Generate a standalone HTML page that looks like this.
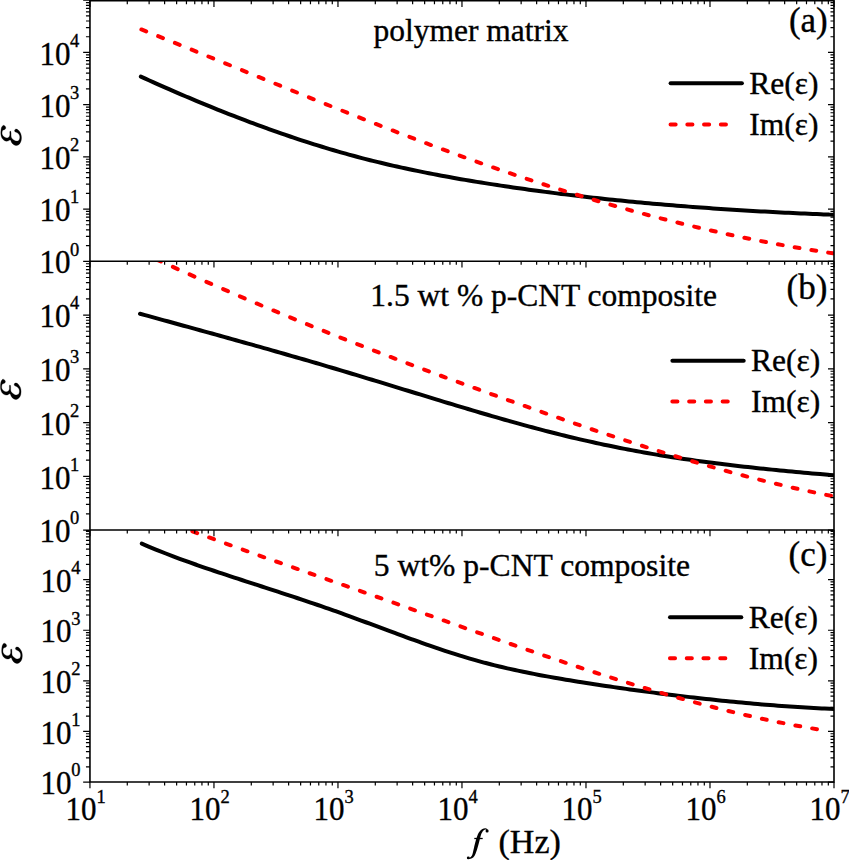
<!DOCTYPE html><html><head><meta charset="utf-8"><style>html,body{margin:0;padding:0;background:#fff;overflow:hidden;}svg{display:block;}text{font-family:"Liberation Serif",serif;fill:#000;stroke:#000;stroke-width:0.35px;}</style></head><body>
<svg width="849" height="860" viewBox="0 0 849 860">
<defs>
<clipPath id="c0"><rect x="89.95" y="0.75" width="744.05" height="260.5"/></clipPath>
<clipPath id="c1"><rect x="89.95" y="261.25" width="744.05" height="268.8"/></clipPath>
<clipPath id="c2"><rect x="89.95" y="530.05" width="744.05" height="252"/></clipPath>
</defs>
<path d="M140.84,76.64 C142.17,77.25 146.17,79.06 148.84,80.25 C151.51,81.45 154.17,82.64 156.84,83.83 C159.51,85.01 162.17,86.19 164.84,87.36 C167.51,88.53 170.17,89.69 172.84,90.85 C175.51,92.01 178.17,93.16 180.84,94.3 C183.51,95.44 186.17,96.58 188.84,97.71 C191.51,98.83 194.17,99.95 196.84,101.07 C199.51,102.18 202.17,103.29 204.84,104.38 C207.51,105.48 210.17,106.57 212.84,107.65 C215.51,108.73 218.17,109.8 220.84,110.87 C223.51,111.93 226.17,112.99 228.84,114.04 C231.51,115.08 234.17,116.12 236.84,117.15 C239.51,118.18 242.17,119.2 244.84,120.22 C247.51,121.23 250.17,122.23 252.84,123.22 C255.51,124.22 258.17,125.2 260.84,126.18 C263.51,127.15 266.17,128.12 268.84,129.07 C271.51,130.03 274.17,130.97 276.84,131.91 C279.51,132.84 282.17,133.77 284.84,134.69 C287.51,135.6 290.17,136.51 292.84,137.4 C295.51,138.3 298.17,139.18 300.84,140.05 C303.51,140.93 306.17,141.79 308.84,142.64 C311.51,143.49 314.17,144.33 316.84,145.16 C319.51,145.99 322.17,146.81 324.84,147.62 C327.51,148.42 330.17,149.22 332.84,150 C335.51,150.79 338.17,151.56 340.84,152.32 C343.51,153.08 346.17,153.82 348.84,154.56 C351.51,155.3 354.17,156.02 356.84,156.73 C359.51,157.44 362.17,158.14 364.84,158.83 C367.51,159.51 370.17,160.19 372.84,160.85 C375.51,161.52 378.17,162.17 380.84,162.81 C383.51,163.45 386.17,164.08 388.84,164.7 C391.51,165.32 394.17,165.93 396.84,166.53 C399.51,167.13 402.17,167.72 404.84,168.3 C407.51,168.87 410.17,169.44 412.84,170 C415.51,170.56 418.17,171.11 420.84,171.66 C423.51,172.2 426.17,172.73 428.84,173.25 C431.51,173.78 434.17,174.29 436.84,174.8 C439.51,175.31 442.17,175.81 444.84,176.3 C447.51,176.79 450.17,177.27 452.84,177.75 C455.51,178.22 458.17,178.69 460.84,179.16 C463.51,179.62 466.17,180.07 468.84,180.52 C471.51,180.97 474.17,181.41 476.84,181.85 C479.51,182.28 482.17,182.71 484.84,183.13 C487.51,183.56 490.17,183.98 492.84,184.39 C495.51,184.8 498.17,185.21 500.84,185.61 C503.51,186.01 506.17,186.41 508.84,186.8 C511.51,187.2 514.17,187.58 516.84,187.97 C519.51,188.35 522.17,188.73 524.84,189.1 C527.51,189.47 530.17,189.84 532.84,190.21 C535.51,190.57 538.17,190.93 540.84,191.28 C543.51,191.64 546.17,191.99 548.84,192.33 C551.51,192.68 554.17,193.02 556.84,193.36 C559.51,193.69 562.17,194.03 564.84,194.35 C567.51,194.68 570.17,195 572.84,195.32 C575.51,195.64 578.17,195.96 580.84,196.27 C583.51,196.58 586.17,196.88 588.84,197.18 C591.51,197.48 594.17,197.78 596.84,198.07 C599.51,198.37 602.17,198.66 604.84,198.94 C607.51,199.23 610.17,199.51 612.84,199.78 C615.51,200.06 618.17,200.33 620.84,200.6 C623.51,200.87 626.17,201.13 628.84,201.39 C631.51,201.66 634.17,201.91 636.84,202.17 C639.51,202.42 642.17,202.67 644.84,202.91 C647.51,203.16 650.17,203.4 652.84,203.64 C655.51,203.87 658.17,204.11 660.84,204.34 C663.51,204.57 666.17,204.8 668.84,205.02 C671.51,205.24 674.17,205.46 676.84,205.68 C679.51,205.89 682.17,206.11 684.84,206.32 C687.51,206.52 690.17,206.73 692.84,206.93 C695.51,207.13 698.17,207.33 700.84,207.53 C703.51,207.72 706.17,207.92 708.84,208.1 C711.51,208.29 714.17,208.48 716.84,208.66 C719.51,208.84 722.17,209.02 724.84,209.2 C727.51,209.37 730.17,209.55 732.84,209.72 C735.51,209.89 738.17,210.05 740.84,210.22 C743.51,210.38 746.17,210.54 748.84,210.7 C751.51,210.86 754.17,211.01 756.84,211.16 C759.51,211.31 762.17,211.46 764.84,211.61 C767.51,211.76 770.17,211.9 772.84,212.04 C775.51,212.18 778.17,212.32 780.84,212.45 C783.51,212.59 786.17,212.72 788.84,212.85 C791.51,212.98 794.17,213.11 796.84,213.23 C799.51,213.35 802.17,213.48 804.84,213.6 C807.51,213.71 810.17,213.83 812.84,213.95 C815.51,214.06 818.17,214.17 820.84,214.28 C823.51,214.39 826.56,214.51 828.84,214.6 C831.12,214.69 833.56,214.79 834.5,214.82" fill="none" stroke="#000" stroke-width="4" stroke-linecap="round" stroke-linejoin="round" clip-path="url(#c0)"/>
<path d="M140,313.73 C141.33,314.1 145.33,315.2 148,315.94 C150.67,316.67 153.33,317.4 156,318.14 C158.67,318.87 161.33,319.6 164,320.34 C166.67,321.07 169.33,321.8 172,322.54 C174.67,323.27 177.33,324 180,324.74 C182.67,325.47 185.33,326.2 188,326.94 C190.67,327.67 193.33,328.4 196,329.14 C198.67,329.87 201.33,330.61 204,331.34 C206.67,332.08 209.33,332.82 212,333.55 C214.67,334.29 217.33,335.03 220,335.77 C222.67,336.51 225.33,337.25 228,337.99 C230.67,338.73 233.33,339.47 236,340.21 C238.67,340.96 241.33,341.7 244,342.45 C246.67,343.2 249.33,343.94 252,344.69 C254.67,345.44 257.33,346.19 260,346.94 C262.67,347.69 265.33,348.45 268,349.2 C270.67,349.96 273.33,350.72 276,351.48 C278.67,352.24 281.33,353 284,353.76 C286.67,354.52 289.33,355.29 292,356.06 C294.67,356.83 297.33,357.6 300,358.37 C302.67,359.14 305.33,359.92 308,360.69 C310.67,361.47 313.33,362.25 316,363.03 C318.67,363.81 321.33,364.6 324,365.38 C326.67,366.17 329.33,366.96 332,367.75 C334.67,368.54 337.33,369.33 340,370.13 C342.67,370.92 345.33,371.72 348,372.52 C350.67,373.32 353.33,374.12 356,374.92 C358.67,375.72 361.33,376.53 364,377.33 C366.67,378.14 369.33,378.95 372,379.76 C374.67,380.56 377.33,381.38 380,382.19 C382.67,383 385.33,383.82 388,384.63 C390.67,385.45 393.33,386.26 396,387.08 C398.67,387.9 401.33,388.72 404,389.54 C406.67,390.36 409.33,391.17 412,391.99 C414.67,392.81 417.33,393.63 420,394.45 C422.67,395.27 425.33,396.08 428,396.9 C430.67,397.72 433.33,398.53 436,399.35 C438.67,400.16 441.33,400.97 444,401.79 C446.67,402.6 449.33,403.41 452,404.21 C454.67,405.02 457.33,405.82 460,406.62 C462.67,407.43 465.33,408.23 468,409.02 C470.67,409.82 473.33,410.61 476,411.4 C478.67,412.19 481.33,412.97 484,413.75 C486.67,414.54 489.33,415.31 492,416.09 C494.67,416.86 497.33,417.63 500,418.39 C502.67,419.15 505.33,419.91 508,420.66 C510.67,421.42 513.33,422.16 516,422.91 C518.67,423.65 521.33,424.38 524,425.11 C526.67,425.84 529.33,426.57 532,427.28 C534.67,428 537.33,428.71 540,429.41 C542.67,430.11 545.33,430.81 548,431.49 C550.67,432.18 553.33,432.86 556,433.53 C558.67,434.2 561.33,434.87 564,435.52 C566.67,436.18 569.33,436.82 572,437.46 C574.67,438.1 577.33,438.73 580,439.35 C582.67,439.96 585.33,440.57 588,441.17 C590.67,441.77 593.33,442.37 596,442.95 C598.67,443.53 601.33,444.1 604,444.67 C606.67,445.23 609.33,445.78 612,446.33 C614.67,446.88 617.33,447.41 620,447.94 C622.67,448.47 625.33,448.99 628,449.5 C630.67,450.01 633.33,450.51 636,451 C638.67,451.49 641.33,451.98 644,452.45 C646.67,452.93 649.33,453.39 652,453.85 C654.67,454.31 657.33,454.75 660,455.19 C662.67,455.63 665.33,456.07 668,456.49 C670.67,456.91 673.33,457.33 676,457.74 C678.67,458.15 681.33,458.55 684,458.94 C686.67,459.33 689.33,459.72 692,460.1 C694.67,460.47 697.33,460.84 700,461.21 C702.67,461.57 705.33,461.93 708,462.28 C710.67,462.63 713.33,462.98 716,463.32 C718.67,463.65 721.33,463.99 724,464.31 C726.67,464.64 729.33,464.96 732,465.28 C734.67,465.59 737.33,465.9 740,466.21 C742.67,466.51 745.33,466.81 748,467.1 C750.67,467.4 753.33,467.69 756,467.97 C758.67,468.26 761.33,468.54 764,468.82 C766.67,469.09 769.33,469.36 772,469.63 C774.67,469.9 777.33,470.17 780,470.43 C782.67,470.69 785.33,470.94 788,471.2 C790.67,471.45 793.33,471.7 796,471.95 C798.67,472.2 801.33,472.44 804,472.69 C806.67,472.93 809.33,473.17 812,473.41 C814.67,473.64 817.33,473.88 820,474.11 C822.67,474.35 825.58,474.6 828,474.81 C830.42,475.02 833.42,475.27 834.5,475.36" fill="none" stroke="#000" stroke-width="4" stroke-linecap="round" stroke-linejoin="round" clip-path="url(#c1)"/>
<path d="M141.8,543.65 C143.13,544.22 147.13,545.93 149.8,547.05 C152.47,548.16 155.13,549.25 157.8,550.33 C160.47,551.4 163.13,552.46 165.8,553.49 C168.47,554.53 171.13,555.56 173.8,556.56 C176.47,557.57 179.13,558.56 181.8,559.54 C184.47,560.52 187.13,561.49 189.8,562.44 C192.47,563.4 195.13,564.34 197.8,565.27 C200.47,566.21 203.13,567.13 205.8,568.04 C208.47,568.95 211.13,569.86 213.8,570.76 C216.47,571.66 219.13,572.55 221.8,573.43 C224.47,574.32 227.13,575.2 229.8,576.08 C232.47,576.96 235.13,577.83 237.8,578.7 C240.47,579.57 243.13,580.44 245.8,581.31 C248.47,582.17 251.13,583.04 253.8,583.9 C256.47,584.77 259.13,585.63 261.8,586.5 C264.47,587.36 267.13,588.22 269.8,589.09 C272.47,589.96 275.13,590.82 277.8,591.69 C280.47,592.56 283.13,593.43 285.8,594.31 C288.47,595.18 291.13,596.06 293.8,596.94 C296.47,597.82 299.13,598.71 301.8,599.6 C304.47,600.49 307.13,601.38 309.8,602.29 C312.47,603.19 315.13,604.1 317.8,605.01 C320.47,605.93 323.13,606.85 325.8,607.78 C328.47,608.71 331.13,609.65 333.8,610.6 C336.47,611.54 339.13,612.5 341.8,613.46 C344.47,614.42 347.13,615.39 349.8,616.36 C352.47,617.34 355.13,618.32 357.8,619.3 C360.47,620.28 363.13,621.26 365.8,622.25 C368.47,623.24 371.13,624.23 373.8,625.22 C376.47,626.21 379.13,627.21 381.8,628.2 C384.47,629.19 387.13,630.18 389.8,631.17 C392.47,632.16 395.13,633.15 397.8,634.13 C400.47,635.11 403.13,636.1 405.8,637.07 C408.47,638.05 411.13,639.02 413.8,639.98 C416.47,640.94 419.13,641.9 421.8,642.85 C424.47,643.79 427.13,644.73 429.8,645.66 C432.47,646.59 435.13,647.51 437.8,648.41 C440.47,649.32 443.13,650.22 445.8,651.09 C448.47,651.97 451.13,652.84 453.8,653.69 C456.47,654.54 459.13,655.38 461.8,656.2 C464.47,657.01 467.13,657.82 469.8,658.6 C472.47,659.38 475.13,660.14 477.8,660.89 C480.47,661.63 483.13,662.35 485.8,663.05 C488.47,663.76 491.13,664.44 493.8,665.11 C496.47,665.77 499.13,666.42 501.8,667.05 C504.47,667.68 507.13,668.3 509.8,668.9 C512.47,669.5 515.13,670.08 517.8,670.65 C520.47,671.22 523.13,671.78 525.8,672.32 C528.47,672.86 531.13,673.39 533.8,673.91 C536.47,674.43 539.13,674.94 541.8,675.43 C544.47,675.93 547.13,676.42 549.8,676.89 C552.47,677.37 555.13,677.84 557.8,678.3 C560.47,678.76 563.13,679.21 565.8,679.66 C568.47,680.1 571.13,680.54 573.8,680.98 C576.47,681.41 579.13,681.84 581.8,682.26 C584.47,682.69 587.13,683.11 589.8,683.52 C592.47,683.94 595.13,684.35 597.8,684.75 C600.47,685.16 603.13,685.56 605.8,685.95 C608.47,686.35 611.13,686.74 613.8,687.13 C616.47,687.52 619.13,687.9 621.8,688.28 C624.47,688.66 627.13,689.04 629.8,689.41 C632.47,689.78 635.13,690.15 637.8,690.51 C640.47,690.87 643.13,691.23 645.8,691.59 C648.47,691.94 651.13,692.29 653.8,692.64 C656.47,692.99 659.13,693.33 661.8,693.68 C664.47,694.02 667.13,694.35 669.8,694.68 C672.47,695.02 675.13,695.35 677.8,695.67 C680.47,695.99 683.13,696.32 685.8,696.63 C688.47,696.95 691.13,697.26 693.8,697.57 C696.47,697.87 699.13,698.18 701.8,698.48 C704.47,698.78 707.13,699.07 709.8,699.36 C712.47,699.65 715.13,699.93 717.8,700.21 C720.47,700.49 723.13,700.77 725.8,701.04 C728.47,701.31 731.13,701.58 733.8,701.84 C736.47,702.1 739.13,702.35 741.8,702.6 C744.47,702.85 747.13,703.1 749.8,703.34 C752.47,703.58 755.13,703.81 757.8,704.04 C760.47,704.27 763.13,704.5 765.8,704.72 C768.47,704.93 771.13,705.15 773.8,705.35 C776.47,705.56 779.13,705.76 781.8,705.96 C784.47,706.16 787.13,706.35 789.8,706.53 C792.47,706.71 795.13,706.89 797.8,707.06 C800.47,707.24 803.13,707.4 805.8,707.56 C808.47,707.72 811.13,707.88 813.8,708.02 C816.47,708.17 819.13,708.31 821.8,708.45 C824.47,708.58 827.68,708.73 829.8,708.83 C831.92,708.93 833.72,709 834.5,709.04" fill="none" stroke="#000" stroke-width="4" stroke-linecap="round" stroke-linejoin="round" clip-path="url(#c2)"/>
<path d="M141.4,29.47L146.2,31.38M158.15,36.16L162.95,38.09M174.9,42.9L179.7,44.84M191.65,49.68L196.45,51.63M208.4,56.48L213.2,58.43M225.15,63.3L229.95,65.25M241.9,70.13L246.7,72.08M258.65,76.95L263.45,78.91M275.4,83.77L280.2,85.72M292.15,90.57L296.95,92.51M308.9,97.34L313.7,99.27M325.65,104.07L330.45,105.99M342.4,110.76L347.2,112.67M359.15,117.4L363.95,119.29M375.9,123.97L380.7,125.84M392.65,130.47L397.45,132.32M409.4,136.89L414.2,138.71M426.15,143.22L430.95,145.01M442.9,149.45L447.7,151.21M459.65,155.57L464.45,157.3M476.4,161.57L481.2,163.27M493.15,167.45L497.95,169.11M509.9,173.2L514.7,174.82M526.65,178.81L531.45,180.39M543.4,184.27L548.2,185.81M560.15,189.6L564.95,191.09M576.9,194.77L581.7,196.23M593.65,199.79L598.45,201.21M610.4,204.66L615.2,206.03M627.15,209.38L631.95,210.7M643.9,213.93L648.7,215.21M660.65,218.32L665.45,219.55M677.4,222.55L682.2,223.73M694.15,226.61L698.95,227.74M710.9,230.49L715.7,231.57M727.65,234.2L732.45,235.23M744.4,237.73L749.2,238.71M761.15,241.09L765.95,242.01M777.9,244.26L782.7,245.13M794.65,247.24L799.45,248.06M811.4,250.03L816.2,250.79M828.15,252.63L832.95,253.34" fill="none" stroke="#f00" stroke-width="4" stroke-linecap="round" clip-path="url(#c0)"/>
<path d="M139.4,251.8L144.2,253.96M156.15,259.35L160.95,261.52M172.9,266.91L177.7,269.07M189.65,274.42L194.45,276.56M206.4,281.83L211.2,283.94M223.15,289.14L227.95,291.21M239.9,296.34L244.7,298.39M256.65,303.45L261.45,305.47M273.4,310.46L278.2,312.45M290.15,317.37L294.95,319.33M306.9,324.19L311.7,326.13M323.65,330.92L328.45,332.83M340.4,337.56L345.2,339.45M357.15,344.11L361.95,345.98M373.9,350.59L378.7,352.43M390.65,356.98L395.45,358.8M407.4,363.3L412.2,365.1M424.15,369.56L428.95,371.34M440.9,375.75L445.7,377.52M457.65,381.89L462.45,383.64M474.4,387.98L479.2,389.71M491.15,394.01L495.95,395.74M507.9,400.01L512.7,401.72M524.65,405.97L529.45,407.67M541.4,411.88L546.2,413.56M558.15,417.73L562.95,419.4M574.9,423.52L579.7,425.17M591.65,429.23L596.45,430.85M608.4,434.85L613.2,436.44M625.15,440.37L629.95,441.93M641.9,445.78L646.7,447.31M658.65,451.07L663.45,452.56M675.4,456.22L680.2,457.68M692.15,461.24L696.95,462.64M708.9,466.09L713.7,467.45M725.65,470.78L730.45,472.1M742.4,475.3L747.2,476.56M759.15,479.63L763.95,480.83M775.9,483.76L780.7,484.9M792.65,487.68L797.45,488.76M809.4,491.38L814.2,492.4M826.15,494.85L830.95,495.81" fill="none" stroke="#f00" stroke-width="4" stroke-linecap="round" clip-path="url(#c1)"/>
<path d="M158.9,518.9L163.7,520.68M175.65,525.11L180.45,526.89M192.4,531.31L197.2,533.09M209.15,537.48L213.95,539.24M225.9,543.57L230.7,545.31M242.65,549.6L247.45,551.31M259.4,555.57L264.2,557.27M276.15,561.49L280.95,563.18M292.9,567.38L297.7,569.06M309.65,573.24L314.45,574.92M326.4,579.1L331.2,580.78M343.15,584.96L347.95,586.64M359.9,590.84L364.7,592.53M376.65,596.74L381.45,598.43M393.4,602.65L398.2,604.35M410.15,608.59L414.95,610.29M426.9,614.52L431.7,616.22M443.65,620.45L448.45,622.15M460.4,626.37L465.2,628.07M477.15,632.28L481.95,633.96M493.9,638.15L498.7,639.83M510.65,643.99L515.45,645.65M527.4,649.78L532.2,651.43M544.15,655.52L548.95,657.15M560.9,661.18L565.7,662.79M577.65,666.77L582.45,668.35M594.4,672.25L599.2,673.8M611.15,677.63L615.95,679.14M627.9,682.87L632.7,684.35M644.65,687.98L649.45,689.42M661.4,692.94L666.2,694.33M678.15,697.73L682.95,699.07M694.9,702.34L699.7,703.62M711.65,706.75L716.45,707.98M728.4,710.96L733.2,712.13M745.15,714.95L749.95,716.05M761.9,718.7L766.7,719.73M778.65,722.2L783.45,723.15M795.4,725.44L800.2,726.32M812.15,728.4L816.95,729.2" fill="none" stroke="#f00" stroke-width="4" stroke-linecap="round" clip-path="url(#c2)"/>
<path d="M89.95,0.75L89.95,7.05M127.28,0.75L127.28,4.15M149.12,0.75L149.12,4.15M164.61,0.75L164.61,4.15M176.63,0.75L176.63,4.15M186.45,0.75L186.45,4.15M194.75,0.75L194.75,4.15M201.94,0.75L201.94,4.15M208.28,0.75L208.28,4.15M213.96,0.75L213.96,7.05M251.29,0.75L251.29,4.15M273.13,0.75L273.13,4.15M288.62,0.75L288.62,4.15M300.64,0.75L300.64,4.15M310.46,0.75L310.46,4.15M318.76,0.75L318.76,4.15M325.95,0.75L325.95,4.15M332.29,0.75L332.29,4.15M337.97,0.75L337.97,7.05M375.3,0.75L375.3,4.15M397.13,0.75L397.13,4.15M412.63,0.75L412.63,4.15M424.64,0.75L424.64,4.15M434.46,0.75L434.46,4.15M442.77,0.75L442.77,4.15M449.96,0.75L449.96,4.15M456.3,0.75L456.3,4.15M461.97,0.75L461.97,7.05M499.31,0.75L499.31,4.15M521.14,0.75L521.14,4.15M536.64,0.75L536.64,4.15M548.65,0.75L548.65,4.15M558.47,0.75L558.47,4.15M566.77,0.75L566.77,4.15M573.97,0.75L573.97,4.15M580.31,0.75L580.31,4.15M585.98,0.75L585.98,7.05M623.31,0.75L623.31,4.15M645.15,0.75L645.15,4.15M660.64,0.75L660.64,4.15M672.66,0.75L672.66,4.15M682.48,0.75L682.48,4.15M690.78,0.75L690.78,4.15M697.97,0.75L697.97,4.15M704.32,0.75L704.32,4.15M709.99,0.75L709.99,7.05M747.32,0.75L747.32,4.15M769.16,0.75L769.16,4.15M784.65,0.75L784.65,4.15M796.67,0.75L796.67,4.15M806.49,0.75L806.49,4.15M814.79,0.75L814.79,4.15M821.98,0.75L821.98,4.15M828.33,0.75L828.33,4.15M834,0.75L834,7.05M83.15,261.25L89.95,261.25M828,261.25L834,261.25M85.95,245.54L89.95,245.54M830.5,245.54L834,245.54M85.95,236.34L89.95,236.34M830.5,236.34L834,236.34M85.95,229.82L89.95,229.82M830.5,229.82L834,229.82M85.95,224.76L89.95,224.76M830.5,224.76L834,224.76M85.95,220.63L89.95,220.63M830.5,220.63L834,220.63M85.95,217.14L89.95,217.14M830.5,217.14L834,217.14M85.95,214.11L89.95,214.11M830.5,214.11L834,214.11M85.95,211.44L89.95,211.44M830.5,211.44L834,211.44M83.15,209.05L89.95,209.05M828,209.05L834,209.05M85.95,193.34L89.95,193.34M830.5,193.34L834,193.34M85.95,184.14L89.95,184.14M830.5,184.14L834,184.14M85.95,177.62L89.95,177.62M830.5,177.62L834,177.62M85.95,172.56L89.95,172.56M830.5,172.56L834,172.56M85.95,168.43L89.95,168.43M830.5,168.43L834,168.43M85.95,164.94L89.95,164.94M830.5,164.94L834,164.94M85.95,161.91L89.95,161.91M830.5,161.91L834,161.91M85.95,159.24L89.95,159.24M830.5,159.24L834,159.24M83.15,156.85L89.95,156.85M828,156.85L834,156.85M85.95,141.14L89.95,141.14M830.5,141.14L834,141.14M85.95,131.94L89.95,131.94M830.5,131.94L834,131.94M85.95,125.42L89.95,125.42M830.5,125.42L834,125.42M85.95,120.36L89.95,120.36M830.5,120.36L834,120.36M85.95,116.23L89.95,116.23M830.5,116.23L834,116.23M85.95,112.74L89.95,112.74M830.5,112.74L834,112.74M85.95,109.71L89.95,109.71M830.5,109.71L834,109.71M85.95,107.04L89.95,107.04M830.5,107.04L834,107.04M83.15,104.65L89.95,104.65M828,104.65L834,104.65M85.95,88.94L89.95,88.94M830.5,88.94L834,88.94M85.95,79.74L89.95,79.74M830.5,79.74L834,79.74M85.95,73.22L89.95,73.22M830.5,73.22L834,73.22M85.95,68.16L89.95,68.16M830.5,68.16L834,68.16M85.95,64.03L89.95,64.03M830.5,64.03L834,64.03M85.95,60.54L89.95,60.54M830.5,60.54L834,60.54M85.95,57.51L89.95,57.51M830.5,57.51L834,57.51M85.95,54.84L89.95,54.84M830.5,54.84L834,54.84M83.15,52.45L89.95,52.45M828,52.45L834,52.45M85.95,36.74L89.95,36.74M830.5,36.74L834,36.74M85.95,27.54L89.95,27.54M830.5,27.54L834,27.54M85.95,21.02L89.95,21.02M830.5,21.02L834,21.02M85.95,15.96L89.95,15.96M830.5,15.96L834,15.96M85.95,11.83L89.95,11.83M830.5,11.83L834,11.83M85.95,8.34L89.95,8.34M830.5,8.34L834,8.34M85.95,5.31L89.95,5.31M830.5,5.31L834,5.31M85.95,2.64L89.95,2.64M830.5,2.64L834,2.64M83.15,0.25L89.95,0.25M828,0.25L834,0.25M89.95,261.25L89.95,267.55M127.28,261.25L127.28,264.65M149.12,261.25L149.12,264.65M164.61,261.25L164.61,264.65M176.63,261.25L176.63,264.65M186.45,261.25L186.45,264.65M194.75,261.25L194.75,264.65M201.94,261.25L201.94,264.65M208.28,261.25L208.28,264.65M213.96,261.25L213.96,267.55M251.29,261.25L251.29,264.65M273.13,261.25L273.13,264.65M288.62,261.25L288.62,264.65M300.64,261.25L300.64,264.65M310.46,261.25L310.46,264.65M318.76,261.25L318.76,264.65M325.95,261.25L325.95,264.65M332.29,261.25L332.29,264.65M337.97,261.25L337.97,267.55M375.3,261.25L375.3,264.65M397.13,261.25L397.13,264.65M412.63,261.25L412.63,264.65M424.64,261.25L424.64,264.65M434.46,261.25L434.46,264.65M442.77,261.25L442.77,264.65M449.96,261.25L449.96,264.65M456.3,261.25L456.3,264.65M461.97,261.25L461.97,267.55M499.31,261.25L499.31,264.65M521.14,261.25L521.14,264.65M536.64,261.25L536.64,264.65M548.65,261.25L548.65,264.65M558.47,261.25L558.47,264.65M566.77,261.25L566.77,264.65M573.97,261.25L573.97,264.65M580.31,261.25L580.31,264.65M585.98,261.25L585.98,267.55M623.31,261.25L623.31,264.65M645.15,261.25L645.15,264.65M660.64,261.25L660.64,264.65M672.66,261.25L672.66,264.65M682.48,261.25L682.48,264.65M690.78,261.25L690.78,264.65M697.97,261.25L697.97,264.65M704.32,261.25L704.32,264.65M709.99,261.25L709.99,267.55M747.32,261.25L747.32,264.65M769.16,261.25L769.16,264.65M784.65,261.25L784.65,264.65M796.67,261.25L796.67,264.65M806.49,261.25L806.49,264.65M814.79,261.25L814.79,264.65M821.98,261.25L821.98,264.65M828.33,261.25L828.33,264.65M834,261.25L834,267.55M83.15,530.05L89.95,530.05M828,530.05L834,530.05M85.95,513.87L89.95,513.87M830.5,513.87L834,513.87M85.95,504.4L89.95,504.4M830.5,504.4L834,504.4M85.95,497.69L89.95,497.69M830.5,497.69L834,497.69M85.95,492.48L89.95,492.48M830.5,492.48L834,492.48M85.95,488.22L89.95,488.22M830.5,488.22L834,488.22M85.95,484.63L89.95,484.63M830.5,484.63L834,484.63M85.95,481.51L89.95,481.51M830.5,481.51L834,481.51M85.95,478.76L89.95,478.76M830.5,478.76L834,478.76M83.15,476.3L89.95,476.3M828,476.3L834,476.3M85.95,460.12L89.95,460.12M830.5,460.12L834,460.12M85.95,450.65L89.95,450.65M830.5,450.65L834,450.65M85.95,443.94L89.95,443.94M830.5,443.94L834,443.94M85.95,438.73L89.95,438.73M830.5,438.73L834,438.73M85.95,434.47L89.95,434.47M830.5,434.47L834,434.47M85.95,430.88L89.95,430.88M830.5,430.88L834,430.88M85.95,427.76L89.95,427.76M830.5,427.76L834,427.76M85.95,425.01L89.95,425.01M830.5,425.01L834,425.01M83.15,422.55L89.95,422.55M828,422.55L834,422.55M85.95,406.37L89.95,406.37M830.5,406.37L834,406.37M85.95,396.9L89.95,396.9M830.5,396.9L834,396.9M85.95,390.19L89.95,390.19M830.5,390.19L834,390.19M85.95,384.98L89.95,384.98M830.5,384.98L834,384.98M85.95,380.72L89.95,380.72M830.5,380.72L834,380.72M85.95,377.13L89.95,377.13M830.5,377.13L834,377.13M85.95,374.01L89.95,374.01M830.5,374.01L834,374.01M85.95,371.26L89.95,371.26M830.5,371.26L834,371.26M83.15,368.8L89.95,368.8M828,368.8L834,368.8M85.95,352.62L89.95,352.62M830.5,352.62L834,352.62M85.95,343.15L89.95,343.15M830.5,343.15L834,343.15M85.95,336.44L89.95,336.44M830.5,336.44L834,336.44M85.95,331.23L89.95,331.23M830.5,331.23L834,331.23M85.95,326.97L89.95,326.97M830.5,326.97L834,326.97M85.95,323.38L89.95,323.38M830.5,323.38L834,323.38M85.95,320.26L89.95,320.26M830.5,320.26L834,320.26M85.95,317.51L89.95,317.51M830.5,317.51L834,317.51M83.15,315.05L89.95,315.05M828,315.05L834,315.05M85.95,298.87L89.95,298.87M830.5,298.87L834,298.87M85.95,289.4L89.95,289.4M830.5,289.4L834,289.4M85.95,282.69L89.95,282.69M830.5,282.69L834,282.69M85.95,277.48L89.95,277.48M830.5,277.48L834,277.48M85.95,273.22L89.95,273.22M830.5,273.22L834,273.22M85.95,269.63L89.95,269.63M830.5,269.63L834,269.63M85.95,266.51L89.95,266.51M830.5,266.51L834,266.51M85.95,263.76L89.95,263.76M830.5,263.76L834,263.76M83.15,261.3L89.95,261.3M828,261.3L834,261.3M89.95,530.05L89.95,536.35M89.95,782.05L89.95,788.35M127.28,530.05L127.28,533.45M127.28,782.05L127.28,785.45M149.12,530.05L149.12,533.45M149.12,782.05L149.12,785.45M164.61,530.05L164.61,533.45M164.61,782.05L164.61,785.45M176.63,530.05L176.63,533.45M176.63,782.05L176.63,785.45M186.45,530.05L186.45,533.45M186.45,782.05L186.45,785.45M194.75,530.05L194.75,533.45M194.75,782.05L194.75,785.45M201.94,530.05L201.94,533.45M201.94,782.05L201.94,785.45M208.28,530.05L208.28,533.45M208.28,782.05L208.28,785.45M213.96,530.05L213.96,536.35M213.96,782.05L213.96,788.35M251.29,530.05L251.29,533.45M251.29,782.05L251.29,785.45M273.13,530.05L273.13,533.45M273.13,782.05L273.13,785.45M288.62,530.05L288.62,533.45M288.62,782.05L288.62,785.45M300.64,530.05L300.64,533.45M300.64,782.05L300.64,785.45M310.46,530.05L310.46,533.45M310.46,782.05L310.46,785.45M318.76,530.05L318.76,533.45M318.76,782.05L318.76,785.45M325.95,530.05L325.95,533.45M325.95,782.05L325.95,785.45M332.29,530.05L332.29,533.45M332.29,782.05L332.29,785.45M337.97,530.05L337.97,536.35M337.97,782.05L337.97,788.35M375.3,530.05L375.3,533.45M375.3,782.05L375.3,785.45M397.13,530.05L397.13,533.45M397.13,782.05L397.13,785.45M412.63,530.05L412.63,533.45M412.63,782.05L412.63,785.45M424.64,530.05L424.64,533.45M424.64,782.05L424.64,785.45M434.46,530.05L434.46,533.45M434.46,782.05L434.46,785.45M442.77,530.05L442.77,533.45M442.77,782.05L442.77,785.45M449.96,530.05L449.96,533.45M449.96,782.05L449.96,785.45M456.3,530.05L456.3,533.45M456.3,782.05L456.3,785.45M461.97,530.05L461.97,536.35M461.97,782.05L461.97,788.35M499.31,530.05L499.31,533.45M499.31,782.05L499.31,785.45M521.14,530.05L521.14,533.45M521.14,782.05L521.14,785.45M536.64,530.05L536.64,533.45M536.64,782.05L536.64,785.45M548.65,530.05L548.65,533.45M548.65,782.05L548.65,785.45M558.47,530.05L558.47,533.45M558.47,782.05L558.47,785.45M566.77,530.05L566.77,533.45M566.77,782.05L566.77,785.45M573.97,530.05L573.97,533.45M573.97,782.05L573.97,785.45M580.31,530.05L580.31,533.45M580.31,782.05L580.31,785.45M585.98,530.05L585.98,536.35M585.98,782.05L585.98,788.35M623.31,530.05L623.31,533.45M623.31,782.05L623.31,785.45M645.15,530.05L645.15,533.45M645.15,782.05L645.15,785.45M660.64,530.05L660.64,533.45M660.64,782.05L660.64,785.45M672.66,530.05L672.66,533.45M672.66,782.05L672.66,785.45M682.48,530.05L682.48,533.45M682.48,782.05L682.48,785.45M690.78,530.05L690.78,533.45M690.78,782.05L690.78,785.45M697.97,530.05L697.97,533.45M697.97,782.05L697.97,785.45M704.32,530.05L704.32,533.45M704.32,782.05L704.32,785.45M709.99,530.05L709.99,536.35M709.99,782.05L709.99,788.35M747.32,530.05L747.32,533.45M747.32,782.05L747.32,785.45M769.16,530.05L769.16,533.45M769.16,782.05L769.16,785.45M784.65,530.05L784.65,533.45M784.65,782.05L784.65,785.45M796.67,530.05L796.67,533.45M796.67,782.05L796.67,785.45M806.49,530.05L806.49,533.45M806.49,782.05L806.49,785.45M814.79,530.05L814.79,533.45M814.79,782.05L814.79,785.45M821.98,530.05L821.98,533.45M821.98,782.05L821.98,785.45M828.33,530.05L828.33,533.45M828.33,782.05L828.33,785.45M834,530.05L834,536.35M834,782.05L834,788.35M83.15,782.05L89.95,782.05M828,782.05L834,782.05M85.95,766.82L89.95,766.82M830.5,766.82L834,766.82M85.95,757.91L89.95,757.91M830.5,757.91L834,757.91M85.95,751.59L89.95,751.59M830.5,751.59L834,751.59M85.95,746.68L89.95,746.68M830.5,746.68L834,746.68M85.95,742.68L89.95,742.68M830.5,742.68L834,742.68M85.95,739.29L89.95,739.29M830.5,739.29L834,739.29M85.95,736.35L89.95,736.35M830.5,736.35L834,736.35M85.95,733.77L89.95,733.77M830.5,733.77L834,733.77M83.15,731.45L89.95,731.45M828,731.45L834,731.45M85.95,716.22L89.95,716.22M830.5,716.22L834,716.22M85.95,707.31L89.95,707.31M830.5,707.31L834,707.31M85.95,700.99L89.95,700.99M830.5,700.99L834,700.99M85.95,696.08L89.95,696.08M830.5,696.08L834,696.08M85.95,692.08L89.95,692.08M830.5,692.08L834,692.08M85.95,688.69L89.95,688.69M830.5,688.69L834,688.69M85.95,685.75L89.95,685.75M830.5,685.75L834,685.75M85.95,683.17L89.95,683.17M830.5,683.17L834,683.17M83.15,680.85L89.95,680.85M828,680.85L834,680.85M85.95,665.62L89.95,665.62M830.5,665.62L834,665.62M85.95,656.71L89.95,656.71M830.5,656.71L834,656.71M85.95,650.39L89.95,650.39M830.5,650.39L834,650.39M85.95,645.48L89.95,645.48M830.5,645.48L834,645.48M85.95,641.48L89.95,641.48M830.5,641.48L834,641.48M85.95,638.09L89.95,638.09M830.5,638.09L834,638.09M85.95,635.15L89.95,635.15M830.5,635.15L834,635.15M85.95,632.57L89.95,632.57M830.5,632.57L834,632.57M83.15,630.25L89.95,630.25M828,630.25L834,630.25M85.95,615.02L89.95,615.02M830.5,615.02L834,615.02M85.95,606.11L89.95,606.11M830.5,606.11L834,606.11M85.95,599.79L89.95,599.79M830.5,599.79L834,599.79M85.95,594.88L89.95,594.88M830.5,594.88L834,594.88M85.95,590.88L89.95,590.88M830.5,590.88L834,590.88M85.95,587.49L89.95,587.49M830.5,587.49L834,587.49M85.95,584.55L89.95,584.55M830.5,584.55L834,584.55M85.95,581.97L89.95,581.97M830.5,581.97L834,581.97M83.15,579.65L89.95,579.65M828,579.65L834,579.65M85.95,564.42L89.95,564.42M830.5,564.42L834,564.42M85.95,555.51L89.95,555.51M830.5,555.51L834,555.51M85.95,549.19L89.95,549.19M830.5,549.19L834,549.19M85.95,544.28L89.95,544.28M830.5,544.28L834,544.28M85.95,540.28L89.95,540.28M830.5,540.28L834,540.28M85.95,536.89L89.95,536.89M830.5,536.89L834,536.89M85.95,533.95L89.95,533.95M830.5,533.95L834,533.95M85.95,531.37L89.95,531.37M830.5,531.37L834,531.37" stroke="#000" stroke-width="1.2" fill="none"/>
<path d="M89.15,0.75H834.8M89.15,261.25H834.8M89.15,530.05H834.8M89.15,782.05H834.8M89.95,0V782.85M834,0V782.85" stroke="#000" stroke-width="1.6" fill="none"/>
<text x="39.4" y="273.45" font-size="33" textLength="31" lengthAdjust="spacingAndGlyphs">10</text><text x="70.1" y="255.6" font-size="18.5">0</text>
<text x="39.4" y="221.25" font-size="33" textLength="31" lengthAdjust="spacingAndGlyphs">10</text><text x="70.1" y="203.4" font-size="18.5">1</text>
<text x="39.4" y="169.05" font-size="33" textLength="31" lengthAdjust="spacingAndGlyphs">10</text><text x="70.1" y="151.2" font-size="18.5">2</text>
<text x="39.4" y="116.85" font-size="33" textLength="31" lengthAdjust="spacingAndGlyphs">10</text><text x="70.1" y="99" font-size="18.5">3</text>
<text x="39.4" y="64.65" font-size="33" textLength="31" lengthAdjust="spacingAndGlyphs">10</text><text x="70.1" y="46.8" font-size="18.5">4</text>
<text x="39.4" y="542.25" font-size="33" textLength="31" lengthAdjust="spacingAndGlyphs">10</text><text x="70.1" y="524.4" font-size="18.5">0</text>
<text x="39.4" y="488.5" font-size="33" textLength="31" lengthAdjust="spacingAndGlyphs">10</text><text x="70.1" y="470.65" font-size="18.5">1</text>
<text x="39.4" y="434.75" font-size="33" textLength="31" lengthAdjust="spacingAndGlyphs">10</text><text x="70.1" y="416.9" font-size="18.5">2</text>
<text x="39.4" y="381" font-size="33" textLength="31" lengthAdjust="spacingAndGlyphs">10</text><text x="70.1" y="363.15" font-size="18.5">3</text>
<text x="39.4" y="327.25" font-size="33" textLength="31" lengthAdjust="spacingAndGlyphs">10</text><text x="70.1" y="309.4" font-size="18.5">4</text>
<text x="40.6" y="794.25" font-size="33" textLength="31" lengthAdjust="spacingAndGlyphs">10</text><text x="71.3" y="776.4" font-size="18.5">0</text>
<text x="40.6" y="743.65" font-size="33" textLength="31" lengthAdjust="spacingAndGlyphs">10</text><text x="71.3" y="725.8" font-size="18.5">1</text>
<text x="40.6" y="693.05" font-size="33" textLength="31" lengthAdjust="spacingAndGlyphs">10</text><text x="71.3" y="675.2" font-size="18.5">2</text>
<text x="40.6" y="642.45" font-size="33" textLength="31" lengthAdjust="spacingAndGlyphs">10</text><text x="71.3" y="624.6" font-size="18.5">3</text>
<text x="40.6" y="591.85" font-size="33" textLength="31" lengthAdjust="spacingAndGlyphs">10</text><text x="71.3" y="574" font-size="18.5">4</text>
<text x="65.45" y="820" font-size="33" textLength="31" lengthAdjust="spacingAndGlyphs">10</text><text x="96.45" y="802.7" font-size="18.5">1</text>
<text x="189.46" y="820" font-size="33" textLength="31" lengthAdjust="spacingAndGlyphs">10</text><text x="220.46" y="802.7" font-size="18.5">2</text>
<text x="313.47" y="820" font-size="33" textLength="31" lengthAdjust="spacingAndGlyphs">10</text><text x="344.47" y="802.7" font-size="18.5">3</text>
<text x="437.47" y="820" font-size="33" textLength="31" lengthAdjust="spacingAndGlyphs">10</text><text x="468.47" y="802.7" font-size="18.5">4</text>
<text x="561.48" y="820" font-size="33" textLength="31" lengthAdjust="spacingAndGlyphs">10</text><text x="592.48" y="802.7" font-size="18.5">5</text>
<text x="685.49" y="820" font-size="33" textLength="31" lengthAdjust="spacingAndGlyphs">10</text><text x="716.49" y="802.7" font-size="18.5">6</text>
<text x="809.5" y="820" font-size="33" textLength="31" lengthAdjust="spacingAndGlyphs">10</text><text x="840.5" y="802.7" font-size="18.5">7</text>
<text x="373.5" y="40.5" font-size="31.5">polymer matrix</text>
<text x="370.3" y="306.1" font-size="31.5">1.5 wt % p-CNT composite</text>
<text x="373.8" y="576.1" font-size="31.6">5 wt% p-CNT composite</text>
<text x="788.9" y="32" font-size="35">(a)</text>
<text x="786.6" y="299" font-size="35">(b)</text>
<text x="788.5" y="566" font-size="35">(c)</text>
<path d="M670.6,83.3H741.9" stroke="#000" stroke-width="4" stroke-linecap="round"/>
<path d="M670.5,124.5h5.2M687.3,124.5h5.2M704,124.5h5.2M720.8,124.5h5.2" stroke="#f00" stroke-width="3.9" stroke-linecap="round"/>
<text x="749.3" y="93.7" font-size="31.5">Re(ε)</text>
<text x="749.3" y="134.9" font-size="31.5">Im(ε)</text>
<path d="M672.4,360.7H743.7" stroke="#000" stroke-width="4" stroke-linecap="round"/>
<path d="M672.3,401.5h5.2M689.1,401.5h5.2M705.8,401.5h5.2M722.6,401.5h5.2" stroke="#f00" stroke-width="3.9" stroke-linecap="round"/>
<text x="751.1" y="370.9" font-size="31.5">Re(ε)</text>
<text x="751.1" y="412.1" font-size="31.5">Im(ε)</text>
<path d="M670,617.3H741.3" stroke="#000" stroke-width="4" stroke-linecap="round"/>
<path d="M669.9,658.2h5.2M686.7,658.2h5.2M703.4,658.2h5.2M720.2,658.2h5.2" stroke="#f00" stroke-width="3.9" stroke-linecap="round"/>
<text x="748.7" y="627.6" font-size="31.5">Re(ε)</text>
<text x="748.7" y="668.8" font-size="31.5">Im(ε)</text>
<text x="498.5" y="852.6" font-size="34">(Hz)</text>
<path d="M468.03,858.85L468.14,858.84L468.28,858.84L468.46,858.85L468.66,858.85L468.9,858.85L469.15,858.86L469.42,858.88L469.71,858.88L470.01,858.87L470.31,858.84L470.63,858.77L470.93,858.68L471.21,858.58L471.47,858.47L471.75,858.34L472.03,858.2L472.31,858.03L472.6,857.85L472.88,857.64L473.17,857.41L473.45,857.15L473.73,856.87L473.99,856.56L474.25,856.22L474.5,855.84L474.73,855.45L474.94,855.04L475.14,854.61L475.34,854.17L475.52,853.72L475.7,853.26L475.87,852.8L476.04,852.33L476.21,851.87L476.37,851.42L476.53,850.96L476.7,850.49L476.87,850L477.03,849.5L477.18,849L477.33,848.49L477.48,847.98L477.63,847.47L477.77,846.96L477.91,846.45L478.05,845.95L478.19,845.45L478.33,844.96L478.47,844.46L478.6,843.96L478.74,843.45L478.87,842.95L479,842.45L479.13,841.95L479.25,841.45L479.38,840.96L479.5,840.48L479.62,840.01L479.74,839.55L479.86,839.1L479.98,838.64L480.1,838.18L480.21,837.72L480.32,837.28L480.43,836.85L480.53,836.43L480.64,836.03L480.75,835.64L480.85,835.26L480.96,834.91L481.08,834.57L481.2,834.24L481.33,833.92L481.47,833.61L481.61,833.29L481.76,832.99L481.92,832.69L482.08,832.41L482.24,832.13L482.41,831.87L482.57,831.62L482.74,831.38L482.91,831.16L483.07,830.96L483.23,830.78L483.39,830.6L483.57,830.44L483.76,830.28L483.95,830.14L484.14,830.01L484.34,829.89L484.54,829.78L484.73,829.68L484.92,829.6L485.1,829.53L485.26,829.47L485.39,829.44L485.52,829.45L485.67,829.48L485.82,829.53L485.98,829.59L486.14,829.66L486.29,829.74L486.45,829.83L486.59,829.91L486.73,829.99L486.87,830.06L486.98,830.11L487.42,829.09L487.34,829.06L487.25,829.02L487.13,828.95L486.98,828.86L486.8,828.77L486.61,828.67L486.4,828.58L486.18,828.49L485.94,828.42L485.68,828.37L485.41,828.34L485.14,828.33L484.89,828.34L484.63,828.36L484.37,828.39L484.09,828.44L483.81,828.5L483.52,828.58L483.22,828.68L482.92,828.79L482.62,828.92L482.32,829.07L482.02,829.25L481.73,829.44L481.45,829.65L481.17,829.87L480.9,830.11L480.62,830.37L480.35,830.64L480.08,830.93L479.82,831.23L479.56,831.55L479.31,831.88L479.07,832.23L478.83,832.58L478.6,832.96L478.38,833.35L478.17,833.75L477.98,834.17L477.79,834.59L477.62,835.02L477.45,835.45L477.29,835.89L477.14,836.33L476.99,836.77L476.84,837.22L476.69,837.66L476.54,838.1L476.39,838.57L476.23,839.05L476.09,839.54L475.94,840.03L475.8,840.53L475.66,841.03L475.52,841.53L475.39,842.04L475.26,842.54L475.13,843.04L475,843.54L474.87,844.04L474.74,844.55L474.62,845.06L474.49,845.58L474.37,846.09L474.26,846.61L474.14,847.12L474.03,847.63L473.91,848.13L473.8,848.62L473.69,849.1L473.58,849.57L473.47,850.04L473.35,850.51L473.24,850.99L473.12,851.47L473.02,851.94L472.91,852.39L472.8,852.83L472.7,853.26L472.59,853.66L472.48,854.04L472.37,854.39L472.26,854.7L472.15,854.98L472.03,855.25L471.9,855.49L471.76,855.73L471.62,855.95L471.46,856.15L471.3,856.35L471.14,856.54L470.97,856.71L470.79,856.88L470.61,857.04L470.43,857.19L470.27,857.32L470.12,857.43L469.96,857.51L469.77,857.59L469.56,857.65L469.35,857.7L469.12,857.74L468.9,857.75L468.68,857.75L468.48,857.75L468.29,857.74L468.11,857.74L467.97,857.75Z" fill="#000"/>
<circle cx="468.3" cy="857.9" r="1.45"/><circle cx="487.1" cy="830.9" r="1.55"/>
<path d="M474.3,838.5H482.7" stroke="#000" stroke-width="1.3"/>
<path d="M110,85 C127.5,77.5 149.17,87.5 165,100 C180.83,112.5 200.83,141.67 205,160 C209.17,178.33 199.17,197.5 190,210 C180.83,222.5 165,227.5 150,235 C135,242.5 112.5,240.83 100,255 C87.5,269.17 78.33,294.17 75,320 C71.67,345.83 70.83,383.33 80,410 C89.17,436.67 108.33,460.83 130,480 C151.67,499.17 185,518.33 210,525 C235,531.67 260,527.83 280,520 C300,512.17 318.67,496.33 330,478 C341.33,459.67 345.5,434.67 348,410 C350.5,385.33 343.33,350.5 345,330 C346.67,309.5 351.83,292.5 358,287 C364.17,281.5 376.33,284.83 382,297 C387.67,309.17 390.33,334.5 392,360 C393.67,385.5 389.83,423.33 392,450 C394.17,476.67 395.33,499.17 405,520 C414.67,540.83 430.83,558.33 450,575 C469.17,591.67 496.67,609.17 520,620 C543.33,630.83 568.33,639.17 590,640 C611.67,640.83 633.33,636.67 650,625 C666.67,613.33 681.67,592.5 690,570 C698.33,547.5 702.5,516.67 700,490 C697.5,463.33 687.5,432.5 675,410 C662.5,387.5 642.5,368.33 625,355 C607.5,341.67 586.17,337.83 570,330 C553.83,322.17 537.17,320 528,308 C518.83,296 511,273.17 515,258 C519,242.83 534.17,221.67 552,217 C569.83,212.33 600.67,218.67 622,230 C643.33,241.33 661.17,260 680,285 C698.83,310 721.67,344.17 735,380 C748.33,415.83 757.83,458.33 760,500 C762.17,541.67 758,591.67 748,630 C738,668.33 721.33,703.33 700,730 C678.67,756.67 648.33,780 620,790 C591.67,800 557.5,797.5 530,790 C502.5,782.5 475.83,763.33 455,745 C434.17,726.67 417.5,701.67 405,680 C392.5,658.33 389.17,628.33 380,615 C370.83,601.67 363.33,597.5 350,600 C336.67,602.5 320,622.5 300,630 C280,637.5 255,647 230,645 C205,643 175,633.83 150,618 C125,602.17 98.67,578 80,550 C61.33,522 46.67,485 38,450 C29.33,415 28,376.67 28,340 C28,303.33 32.67,262.5 38,230 C43.33,197.5 48,169.17 60,145 C72,120.83 92.5,92.5 110,85Z" fill="#000" stroke="#000" stroke-width="9" transform="translate(0,123) scale(0.028269)"/>
<path d="M110,85 C127.5,77.5 149.17,87.5 165,100 C180.83,112.5 200.83,141.67 205,160 C209.17,178.33 199.17,197.5 190,210 C180.83,222.5 165,227.5 150,235 C135,242.5 112.5,240.83 100,255 C87.5,269.17 78.33,294.17 75,320 C71.67,345.83 70.83,383.33 80,410 C89.17,436.67 108.33,460.83 130,480 C151.67,499.17 185,518.33 210,525 C235,531.67 260,527.83 280,520 C300,512.17 318.67,496.33 330,478 C341.33,459.67 345.5,434.67 348,410 C350.5,385.33 343.33,350.5 345,330 C346.67,309.5 351.83,292.5 358,287 C364.17,281.5 376.33,284.83 382,297 C387.67,309.17 390.33,334.5 392,360 C393.67,385.5 389.83,423.33 392,450 C394.17,476.67 395.33,499.17 405,520 C414.67,540.83 430.83,558.33 450,575 C469.17,591.67 496.67,609.17 520,620 C543.33,630.83 568.33,639.17 590,640 C611.67,640.83 633.33,636.67 650,625 C666.67,613.33 681.67,592.5 690,570 C698.33,547.5 702.5,516.67 700,490 C697.5,463.33 687.5,432.5 675,410 C662.5,387.5 642.5,368.33 625,355 C607.5,341.67 586.17,337.83 570,330 C553.83,322.17 537.17,320 528,308 C518.83,296 511,273.17 515,258 C519,242.83 534.17,221.67 552,217 C569.83,212.33 600.67,218.67 622,230 C643.33,241.33 661.17,260 680,285 C698.83,310 721.67,344.17 735,380 C748.33,415.83 757.83,458.33 760,500 C762.17,541.67 758,591.67 748,630 C738,668.33 721.33,703.33 700,730 C678.67,756.67 648.33,780 620,790 C591.67,800 557.5,797.5 530,790 C502.5,782.5 475.83,763.33 455,745 C434.17,726.67 417.5,701.67 405,680 C392.5,658.33 389.17,628.33 380,615 C370.83,601.67 363.33,597.5 350,600 C336.67,602.5 320,622.5 300,630 C280,637.5 255,647 230,645 C205,643 175,633.83 150,618 C125,602.17 98.67,578 80,550 C61.33,522 46.67,485 38,450 C29.33,415 28,376.67 28,340 C28,303.33 32.67,262.5 38,230 C43.33,197.5 48,169.17 60,145 C72,120.83 92.5,92.5 110,85Z" fill="#000" stroke="#000" stroke-width="9" transform="translate(-0.4,376.86) scale(0.028269)"/>
<path d="M110,85 C127.5,77.5 149.17,87.5 165,100 C180.83,112.5 200.83,141.67 205,160 C209.17,178.33 199.17,197.5 190,210 C180.83,222.5 165,227.5 150,235 C135,242.5 112.5,240.83 100,255 C87.5,269.17 78.33,294.17 75,320 C71.67,345.83 70.83,383.33 80,410 C89.17,436.67 108.33,460.83 130,480 C151.67,499.17 185,518.33 210,525 C235,531.67 260,527.83 280,520 C300,512.17 318.67,496.33 330,478 C341.33,459.67 345.5,434.67 348,410 C350.5,385.33 343.33,350.5 345,330 C346.67,309.5 351.83,292.5 358,287 C364.17,281.5 376.33,284.83 382,297 C387.67,309.17 390.33,334.5 392,360 C393.67,385.5 389.83,423.33 392,450 C394.17,476.67 395.33,499.17 405,520 C414.67,540.83 430.83,558.33 450,575 C469.17,591.67 496.67,609.17 520,620 C543.33,630.83 568.33,639.17 590,640 C611.67,640.83 633.33,636.67 650,625 C666.67,613.33 681.67,592.5 690,570 C698.33,547.5 702.5,516.67 700,490 C697.5,463.33 687.5,432.5 675,410 C662.5,387.5 642.5,368.33 625,355 C607.5,341.67 586.17,337.83 570,330 C553.83,322.17 537.17,320 528,308 C518.83,296 511,273.17 515,258 C519,242.83 534.17,221.67 552,217 C569.83,212.33 600.67,218.67 622,230 C643.33,241.33 661.17,260 680,285 C698.83,310 721.67,344.17 735,380 C748.33,415.83 757.83,458.33 760,500 C762.17,541.67 758,591.67 748,630 C738,668.33 721.33,703.33 700,730 C678.67,756.67 648.33,780 620,790 C591.67,800 557.5,797.5 530,790 C502.5,782.5 475.83,763.33 455,745 C434.17,726.67 417.5,701.67 405,680 C392.5,658.33 389.17,628.33 380,615 C370.83,601.67 363.33,597.5 350,600 C336.67,602.5 320,622.5 300,630 C280,637.5 255,647 230,645 C205,643 175,633.83 150,618 C125,602.17 98.67,578 80,550 C61.33,522 46.67,485 38,450 C29.33,415 28,376.67 28,340 C28,303.33 32.67,262.5 38,230 C43.33,197.5 48,169.17 60,145 C72,120.83 92.5,92.5 110,85Z" fill="#000" stroke="#000" stroke-width="9" transform="translate(0.85,640.86) scale(0.028269)"/>
</svg></body></html>
